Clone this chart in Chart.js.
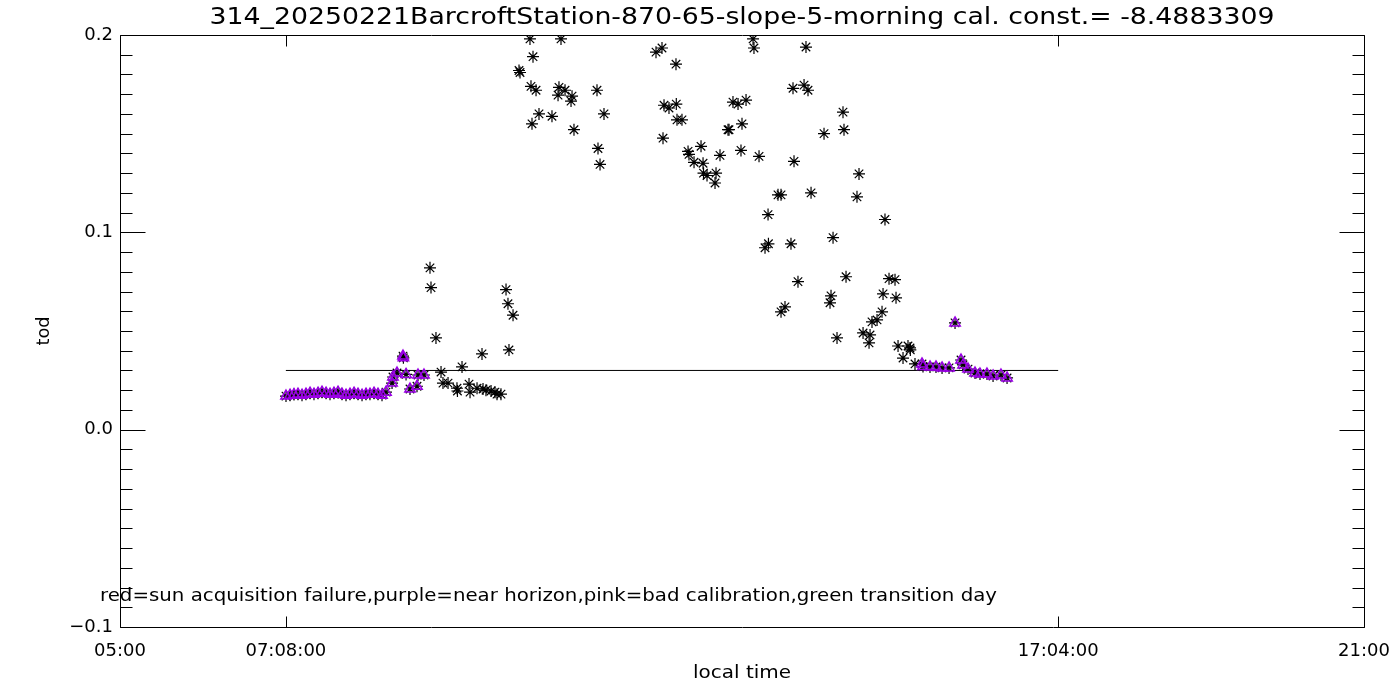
<!DOCTYPE html>
<html><head><meta charset="utf-8">
<script src="https://cdn.jsdelivr.net/npm/chart.js@4.4.0/dist/chart.umd.min.js"></script>
<style>html,body{margin:0;padding:0;background:#fff;}#wrap{width:1400px;height:700px;}</style>
</head><body><div id="wrap"><canvas id="c" width="1400" height="700"></canvas></div>
<script>
const titleText = "314_20250221BarcroftStation-870-65-slope-5-morning cal. const.= -8.4883309";
const xAxisTitle = "local time";
const yAxisTitle = "tod";
const noteText = "red=sun acquisition failure,purple=near horizon,pink=bad calibration,green transition day";
const xTickValues = [5, 7.1333, 17.0667, 21];
const xTickLabels = ["05:00", "07:08:00", "17:04:00", "21:00"];
const yTickValues = [-0.1, 0.0, 0.1, 0.2];
const yTickLabels = ["\u22120.1", "0.0", "0.1", "0.2"];
const refLineX = [7.1333, 17.0667];
const refLineY = [0.03, 0.03];

// local time (decimal hours)
const times = [
 7.135,7.187,7.238,7.289,7.341,7.392,7.444,7.495,7.547,7.598,7.650,7.701,7.752,7.804,7.855,7.907,7.958,8.010,8.061,8.113,8.164,8.215,8.267,8.318,8.370,8.421,
 8.499,8.511,8.563,8.640,8.645,8.679,8.730,8.820,8.833,8.910,
 8.987,9.000,9.064,9.129,9.154,9.219,9.334,9.340,9.399,9.489,9.502,9.592,9.656,9.669,9.707,9.772,9.823,9.849,9.900,9.965,9.990,10.003,10.055,
 10.132,10.145,10.273,10.286,10.299,10.312,10.351,10.389,10.556,10.634,10.646,10.672,10.724,10.801,10.814,10.839,
 11.135,11.148,11.174,11.225,11.894,11.971,11.984,11.997,12.061,12.151,12.155,12.164,12.228,12.306,12.318,12.383,12.473,12.499,12.505,12.550,
 12.653,12.666,12.717,12.820,12.833,12.884,12.949,12.987,13.000,13.052,13.142,13.154,13.219,13.296,13.335,13.340,13.463,13.502,13.502,13.553,
 13.630,13.656,13.669,13.720,13.798,13.823,13.849,13.888,14.055,14.132,14.145,14.171,14.222,14.299,14.312,14.338,14.479,14.505,14.557,14.634,
 14.647,14.672,14.737,14.801,14.814,14.839,14.891,14.968,14.981,15.007,15.071,15.135,15.161,15.165,15.225,
 15.315,15.328,15.418,15.495,15.573,15.663,15.740,15.817,15.843,15.907,15.997,16.061,16.151,16.229,16.331,16.409
];
// total optical depth
const tod = [
 0.0170,0.0175,0.0178,0.0180,0.0175,0.0180,0.0185,0.0180,0.0185,0.0190,0.0185,0.0180,0.0185,0.0190,0.0180,0.0175,0.0180,0.0185,0.0180,0.0175,0.0180,0.0180,0.0185,0.0180,0.0175,0.0190,
 0.0236,0.0267,0.0287,0.0373,0.0364,0.0280,0.0206,0.0220,0.0277,0.0277,
 0.0820,0.0720,0.0465,0.0292,0.0236,0.0236,0.0210,0.0196,0.0318,0.0231,0.0190,0.0210,0.0384,0.0206,0.0200,0.0196,0.0190,0.0180,0.0180,0.0710,0.0638,0.0404,0.0580,
 0.1820,0.1810,0.1980,0.1740,0.1550,0.1890,0.1720,0.1600,0.1588,0.1695,0.1735,0.1980,0.1720,0.1665,0.1690,0.1520,
 0.1720,0.1425,0.1344,0.1600,0.1913,0.1934,0.1477,0.1644,0.1630,0.1852,0.1650,0.1570,0.1570,0.1410,0.1395,0.1355,0.1436,0.1350,0.1300,0.1288,
 0.1250,0.1300,0.1390,0.1520,0.1520,0.1660,0.1650,0.1415,0.1550,0.1670,0.1980,0.1934,0.1385,0.0922,0.1090,0.0942,0.1190,0.1190,0.0597,0.0622,
 0.0942,0.1730,0.1360,0.0750,0.1746,0.1939,0.1720,0.1200,0.1500,0.0643,0.0678,0.0973,0.0465,0.1609,0.1520,0.0775,0.1180,0.1296,0.0490,0.0440,
 0.0480,0.0546,0.0556,0.0597,0.0688,0.1065,0.0765,0.0760,0.0668,0.0424,0.0363,0.0424,0.0414,0.0404,0.0333,
 0.0333,0.0320,0.0318,0.0318,0.0313,0.0313,0.0541,0.0353,0.0328,0.0307,0.0287,0.0282,0.0282,0.0272,0.0277,0.0262
];
// 1 = near horizon (purple)
const nearHorizon = [
 1,1,1,1,1,1,1,1,1,1,1,1,1,1,1,1,1,1,1,1,1,1,1,1,1,1,
 1,1,1,1,1,1,1,1,1,1,
 0,0,0,0,0,0,0,0,0,0,0,0,0,0,0,0,0,0,0,0,0,0,0,
 0,0,0,0,0,0,0,0,0,0,0,0,0,0,0,0,
 0,0,0,0,0,0,0,0,0,0,0,0,0,0,0,0,0,0,0,0,
 0,0,0,0,0,0,0,0,0,0,0,0,0,0,0,0,0,0,0,0,
 0,0,0,0,0,0,0,0,0,0,0,0,0,0,0,0,0,0,0,0,
 0,0,0,0,0,0,0,0,0,0,0,0,0,0,0,
 1,1,1,1,1,1,1,1,1,1,1,1,1,1,1,1
];

const FONT = '"DejaVu Sans", sans-serif';
const allPts = times.map((t, i) => ({x: t, y: tod[i]}));
const purplePts = allPts.filter((p, i) => nearHorizon[i] === 1);
const linePts = refLineX.map((x, i) => ({x: x, y: refLineY[i]}));

function drawScaledText(ctx, s, x, y, size, width, align) {
  ctx.save();
  ctx.font = size + 'px ' + FONT;
  const w = ctx.measureText(s).width;
  const sx = width ? width / w : 1;
  ctx.translate(x, y);
  ctx.scale(sx, 1);
  ctx.textAlign = align || 'left';
  ctx.textBaseline = 'alphabetic';
  ctx.fillStyle = '#000';
  ctx.fillText(s, 0, 0);
  ctx.restore();
}

const framePlugin = {
  id: 'idlFrame',
  afterDraw(chart) {
    const ctx = chart.ctx;
    const a = chart.chartArea;
    const xs = chart.scales.x, ys = chart.scales.y;
    ctx.save();
    ctx.strokeStyle = '#000';
    ctx.lineWidth = 1;
    const L = Math.round(xs.getPixelForValue(5)) + 0.5;
    const R = Math.round(xs.getPixelForValue(21)) + 0.5;
    const T = Math.round(ys.getPixelForValue(0.2)) + 0.5;
    const B = Math.round(ys.getPixelForValue(-0.1)) + 0.5;
    ctx.beginPath();
    ctx.moveTo(L, T); ctx.lineTo(R, T);
    ctx.moveTo(R, T); ctx.lineTo(R, B);
    ctx.moveTo(R, B); ctx.lineTo(L, B);
    ctx.moveTo(L, B); ctx.lineTo(L, T);
    ctx.stroke();
    ctx.beginPath();
    for (let k = -10; k <= 20; k++) {
      const v = k / 100;
      const py = Math.round(ys.getPixelForValue(v)) + 0.5;
      const len = (k % 10 === 0) ? 25 : 12;
      ctx.moveTo(L, py); ctx.lineTo(L + len, py);
      ctx.moveTo(R, py); ctx.lineTo(R - len, py);
    }
    xTickValues.forEach(v => {
      const px = Math.round(xs.getPixelForValue(v)) + 0.5;
      ctx.moveTo(px, B); ctx.lineTo(px, B - 11);
      ctx.moveTo(px, T); ctx.lineTo(px, T + 11);
    });
    ctx.stroke();
    ctx.restore();

    const cx = (a.left + a.right) / 2;
    drawScaledText(ctx, titleText, cx, 24, 23, 1065, 'center');
    drawScaledText(ctx, noteText, 100, 601, 18, 897, 'left');
    drawScaledText(ctx, xAxisTitle, cx, 678, 18, 98, 'center');
    ctx.save();
    ctx.translate(49, (a.top + a.bottom) / 2);
    ctx.rotate(-Math.PI / 2);
    drawScaledText(ctx, yAxisTitle, 0, 0, 18, 29, 'center');
    ctx.restore();
  }
};

new Chart(document.getElementById('c'), {
  type: 'scatter',
  data: {
    datasets: [
      {
        label: 'tod',
        data: allPts,
        pointStyle: 'star',
        pointRadius: 6,
        pointHoverRadius: 6,
        borderColor: '#000',
        backgroundColor: '#000',
        pointBorderWidth: 1.2,
        showLine: false,
        order: 2
      },
      {
        label: 'near horizon',
        data: purplePts,
        pointStyle: 'triangle',
        pointRadius: 6,
        pointHoverRadius: 6,
        borderColor: '#9A00E6',
        backgroundColor: 'rgba(0,0,0,0)',
        pointBorderWidth: 1.5,
        showLine: false,
        order: 1
      },
      {
        label: 'threshold',
        data: linePts,
        showLine: true,
        pointRadius: 0,
        borderColor: '#000',
        borderWidth: 1,
        fill: false,
        order: 3
      }
    ]
  },
  options: {
    responsive: false,
    animation: false,
    devicePixelRatio: 1,
    layout: {padding: {top: 35, right: 36, left: 0, bottom: 0}},
    plugins: {legend: {display: false}, tooltip: {enabled: false}, title: {display: false}},
    scales: {
      x: {
        type: 'linear', min: 5, max: 21,
        afterBuildTicks: s => { s.ticks = xTickValues.map(v => ({value: v})); },
        afterFit: s => { s.height = 73; s.paddingLeft = 0; s.paddingRight = 0; },
        grid: {display: false, drawTicks: false},
        border: {display: false},
        ticks: {
          autoSkip: false, maxRotation: 0, padding: 14, color: '#000',
          font: {family: FONT, size: 18},
          callback: (v, i) => xTickLabels[i]
        }
      },
      y: {
        type: 'linear', min: -0.1, max: 0.2,
        afterBuildTicks: s => { s.ticks = yTickValues.map(v => ({value: v})); },
        afterFit: s => { s.width = 120; s.paddingTop = 0; s.paddingBottom = 0; },
        grid: {display: false, drawTicks: false},
        border: {display: false},
        ticks: {
          autoSkip: false, padding: 7, color: '#000',
          font: {family: FONT, size: 18},
          callback: (v, i) => yTickLabels[i]
        }
      }
    }
  },
  plugins: [framePlugin]
});
</script>
</body></html>
